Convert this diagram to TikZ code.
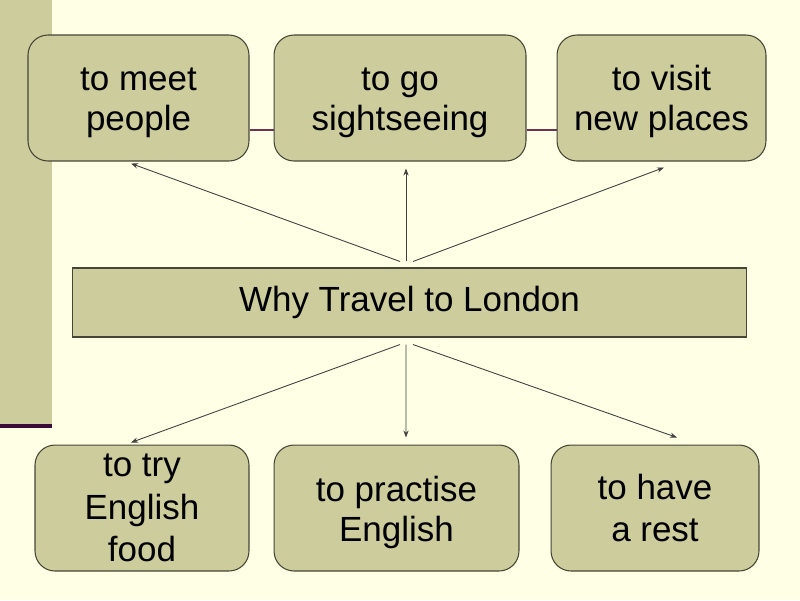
\documentclass[tikz,border=0pt]{standalone}
\usepackage{fontspec}
\setmainfont{Liberation Sans}
\usetikzlibrary{arrows.meta}
\definecolor{paper}{RGB}{255,255,229}
\definecolor{khaki}{RGB}{204,204,156}
\definecolor{edge}{RGB}{70,70,55}
\definecolor{wire}{RGB}{64,64,64}
\definecolor{plum}{RGB}{110,50,85}
\definecolor{darkplum}{RGB}{60,10,55}

\begin{document}
\begin{tikzpicture}[x=0.02cm, y=-0.02cm, font=\fontsize{19.9}{22.8}\selectfont,
    box/.style={draw=edge, fill=khaki, rounded corners=0.4cm, align=center, inner sep=0pt, line width=0.6pt},
    topbox/.style={box, text height=1.44cm},
    lowbox/.style={box, font=\fontsize{19.9}{24.3}\selectfont},
    arr/.style={-{Stealth[length=4pt, width=3pt]}, draw=wire, line width=0.5pt},
    link/.style={draw=plum, line width=1.1pt}]
    \useasboundingbox (0,0) rectangle (800,600);
    \fill[paper] (0,0) rectangle (800,600);
    \fill[khaki] (0,0) rectangle (52,426);
    \draw[darkplum, line width=2pt] (0,426) -- (52,426);

    \node (meet) [topbox, minimum width=4.42cm, minimum height=2.52cm] at (138.5, 98) {to meet\\people};
    \node (go) [topbox, minimum width=5.04cm, minimum height=2.52cm] at (400, 98) {to go\\sightseeing};
    \node (visit) [topbox, minimum width=4.18cm, minimum height=2.52cm] at (661.5, 98) {to visit\\new places};

    \node (why) [box, rounded corners=0pt, minimum width=13.5cm, minimum height=1.38cm] at (409.5, 302.5) {Why Travel to London};

    \node (try) [lowbox, minimum width=4.28cm, minimum height=2.52cm] at (142, 508) {to try\\English\\food};
    \node (practise) [box, text height=1.47cm, minimum width=4.9cm, minimum height=2.52cm] at (396.5, 508) {to practise\\English};
    \node (rest) [lowbox, minimum width=4.16cm, minimum height=2.52cm] at (655, 508) {to have\\a rest};

    \draw[link] ([shift={(0,32)}]meet.east) -- ([shift={(0,32)}]go.west);
    \draw[link] ([shift={(0,32)}]go.east) -- ([shift={(0,32)}]visit.west);

    \draw[arr] ([shift={(-9.5,-6)}]why.north) -- ([shift={(-7.5,2)}]meet.south);
    \draw[arr] ([shift={(-3.5,-6)}]why.north) -- ([shift={(6,7)}]go.south);
    \draw[arr] ([shift={(3.5,-6)}]why.north) -- ([shift={(2.5,6)}]visit.south);
    \draw[arr] ([shift={(-9.5,7)}]why.south) -- ([shift={(-11,-2)}]try.north);
    \draw[arr] ([shift={(-3.5,7)}]why.south) -- ([shift={(9.5,-7)}]practise.north);
    \draw[arr] ([shift={(3.5,7)}]why.south) -- ([shift={(22,-7)}]rest.north);
\end{tikzpicture}
\end{document}
